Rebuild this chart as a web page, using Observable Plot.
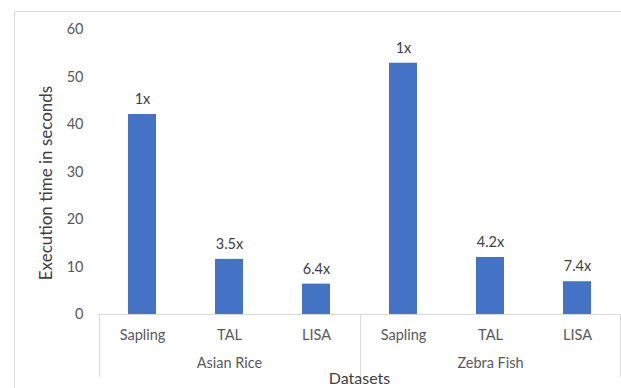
<!DOCTYPE html>
<html>
<head>
<meta charset="utf-8">
<script src="https://cdn.jsdelivr.net/npm/d3@7"></script>
<script src="https://cdn.jsdelivr.net/npm/@observablehq/plot@0.6"></script>
<style>
  html, body { margin: 0; padding: 0; background: #fff; }
  #wrap { position: relative; width: 621px; height: 388px; overflow: hidden; }
  #border { position: absolute; left: 14px; top: 11px; width: 700px; height: 500px;
            border: 1px solid #d9d9d9; box-sizing: border-box; pointer-events: none; }
  #chart { position: absolute; left: 0; top: 0; }
</style>
</head>
<body>
<div id="wrap">
  <div id="border"></div>
  <div id="chart"></div>
</div>
<script>
// Execution time per method on each dataset
const datasets = ["Asian Rice", "Zebra Fish"];
const methods = ["Sapling", "TAL", "LISA"];
const asianRice = [42.1, 11.6, 6.4];
const zebraFish = [52.9, 12.0, 6.9];
const asianRiceSpeedup = ["1x", "3.5x", "6.4x"];
const zebraFishSpeedup = ["1x", "4.2x", "7.4x"];
const yTicks = [0, 10, 20, 30, 40, 50, 60];

const seriesValues = [asianRice, zebraFish];
const seriesLabels = [asianRiceSpeedup, zebraFishSpeedup];
const rows = datasets.flatMap((dataset, g) =>
  methods.map((method, i) => ({
    key: dataset + "|" + method,
    dataset,
    method,
    time: seriesValues[g][i],
    speedup: seriesLabels[g][i]
  }))
);

const font = "Lato, 'Open Sans', sans-serif";
const gray = "#595959";
const lineGray = "#d9d9d9";

// Vertical separators at the left edge of each dataset group and at the far right
function groupSeparators(index, scales, values, dims) {
  const x = scales.x;
  const half = x.step() / 2;
  const g = d3.create("svg:g").attr("stroke", lineGray).attr("stroke-width", 1);
  const edges = datasets.map(d => x(d + "|" + methods[0]) + x.bandwidth() / 2 - half);
  const last = rows[rows.length - 1].key;
  edges.push(x(last) + x.bandwidth() / 2 + half);
  const y0 = dims.height - dims.marginBottom;
  for (const e of edges) {
    const xe = Math.min(Math.round(e) + 0.5, dims.width - 0.5);
    g.append("line").attr("x1", xe).attr("x2", xe).attr("y1", y0).attr("y2", y0 + 63);
  }
  return g.node();
}

const chart = Plot.plot({
  width: 621,
  height: 388,
  marginLeft: 97,
  marginRight: 0,
  marginTop: 29,
  marginBottom: 74,
  style: { fontFamily: font, fontSize: "14.5px", color: gray, background: "transparent" },
  x: { domain: rows.map(d => d.key), paddingInner: 0.68, paddingOuter: 0.34, label: null },
  y: { domain: [0, 60], label: null },
  marks: [
    Plot.axisY({ ticks: yTicks, tickSize: 0, tickPadding: 14, fill: gray, fontSize: 14.5, label: null }),
    Plot.axisX({ tickSize: 0, tickPadding: 15, fill: gray, fontSize: 14.5, label: null,
                 tickFormat: k => k.split("|")[1] }),
    Plot.barY(rows, { x: "key", y: "time", fill: "#4472c4" }),
    Plot.ruleY([0], { stroke: lineGray, strokeWidth: 1 }),
    Plot.text(rows, { x: "key", y: "time", text: "speedup", dy: -15, fill: "#404040", fontSize: 14.5 }),
    Plot.text(rows.filter(d => d.method === methods[1]),
      { x: "key", text: "dataset", frameAnchor: "bottom", dy: 53, fill: gray, fontSize: 14.5 }),
    Plot.text(["Datasets"], { frameAnchor: "bottom", dy: 69, fill: "#404040", fontSize: 16 }),
    Plot.text(["Execution time in seconds"],
      { frameAnchor: "left", textAnchor: "middle", rotate: -90, dx: -51, dy: 11, fill: "#404040", fontSize: 17 }),
    groupSeparators
  ]
});
document.getElementById("chart").appendChild(chart);
</script>
</body>
</html>
